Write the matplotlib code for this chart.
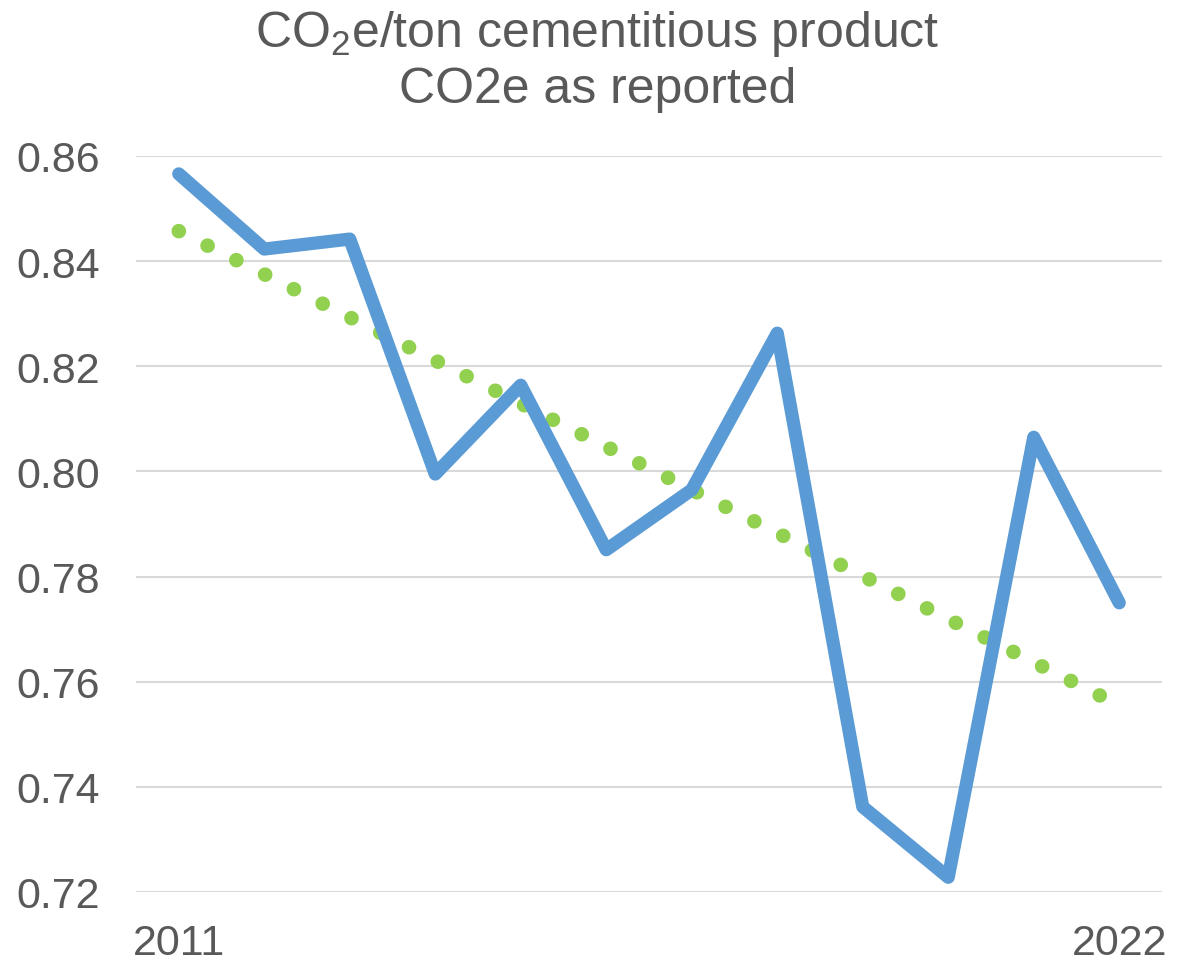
import matplotlib
matplotlib.use("Agg")
import matplotlib.pyplot as plt
import numpy as np
from matplotlib import font_manager

years = [2011, 2012, 2013, 2014, 2015, 2016, 2017, 2018, 2019, 2020, 2021, 2022]
co2e = [0.8566, 0.8423, 0.8442, 0.7995, 0.8164, 0.7851,
        0.7965, 0.8263, 0.7362, 0.7228, 0.8065, 0.7750]
yticks = [0.72, 0.74, 0.76, 0.78, 0.80, 0.82, 0.84, 0.86]

names = {f.name for f in font_manager.fontManager.ttflist}
title_font = "Liberation Sans Narrow" if "Liberation Sans Narrow" in names else "Liberation Sans"

plt.rcParams["font.family"] = ["Liberation Sans", "DejaVu Sans"]
plt.rcParams["mathtext.fontset"] = "custom"
plt.rcParams["mathtext.rm"] = title_font
plt.rcParams["mathtext.it"] = title_font
plt.rcParams["mathtext.bf"] = title_font

text_col = "#595959"
blue = "#5B9BD5"
green = "#92D050"

fig = plt.figure(figsize=(11.85, 9.62), dpi=100)
ax = fig.add_axes([136 / 1185, 1 - 893 / 962, 1026 / 1185, 736 / 962])

x = np.array(years, dtype=float)
y = np.array(co2e)
slope, icpt = np.polyfit(x, y, 1)
ax.plot(x, slope * x + icpt, color=green, lw=10.5,
        linestyle=(0, (0.01, 2.2)), dash_capstyle="round", zorder=2)
ax.plot(x, y, color=blue, lw=9.5, solid_joinstyle="round",
        solid_capstyle="round", zorder=3)

ax.set_xlim(2010.5, 2022.5)
ax.set_ylim(0.72, 0.86)
ax.set_yticks(yticks)
ax.set_yticklabels([f"{v:.2f}" for v in yticks])
ax.set_xticks([2011, 2022])
ax.set_xticklabels(["2011", "2022"])
ax.grid(axis="y", color="#D9D9D9", lw=1.5)
ax.set_axisbelow(True)
for s in ax.spines.values():
    s.set_visible(False)
ax.tick_params(axis="both", length=0, labelsize=31, colors=text_col)
ax.tick_params(axis="y", pad=26)
ax.tick_params(axis="x", pad=22)

fig.text(0.504, 1 - 47 / 962, "CO$_2$e/ton cementitious product",
         family=title_font, fontsize=36, color=text_col, ha="center", va="baseline")
fig.text(0.504, 1 - 103 / 962, "CO2e as reported",
         family=title_font, fontsize=36, color=text_col, ha="center", va="baseline")

fig.savefig("out.png", dpi=100)
